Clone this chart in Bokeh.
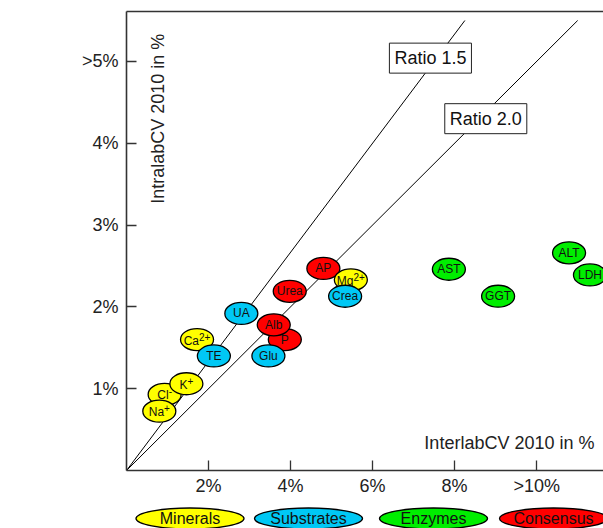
from bokeh.plotting import figure
from bokeh.models import Range1d, FixedTicker, LinearAxis, Label, ColumnDataSource
from bokeh.layouts import column
from bokeh.embed import file_html
from bokeh.resources import INLINE
from bokeh.core.properties import value
import math

FONT = "Liberation Sans"

# ---- data ----
analyte_base = ["Cl", "Na", "K", "Ca", "TE", "UA", "P", "Alb", "Glu", "Urea",
                "AP", "Mg", "Crea", "AST", "GGT", "ALT", "LDH"]
analyte_sup = ["-", "+", "+", "2+", "", "", "", "", "", "",
               "", "2+", "", "", "", "", ""]
groups = ["Minerals", "Minerals", "Minerals", "Minerals", "Substrates", "Substrates",
          "Consensus", "Consensus", "Substrates", "Consensus", "Consensus", "Minerals",
          "Substrates", "Enzymes", "Enzymes", "Enzymes", "Enzymes"]
interlab_cv = [0.93, 0.80, 1.46, 1.72, 2.13, 2.80, 3.86, 3.59, 3.46, 3.98,
               4.80, 5.47, 5.33, 7.86, 9.06, 10.79, 11.30]
intralab_cv = [0.93, 0.725, 1.06, 1.60, 1.40, 1.92, 1.60, 1.78, 1.40, 2.19,
               2.47, 2.33, 2.13, 2.46, 2.13, 2.66, 2.39]

legend_groups = ["Minerals", "Substrates", "Enzymes", "Consensus"]
group_colors = ["#FFFF00", "#00C8F5", "#00EE00", "#FF0000"]

ratios = [1.5, 2.0]
ratio_labels = ["Ratio 1.5", "Ratio 2.0"]
ratio_line_top = 5.5

x_ticks = [2, 4, 6, 8, 10]
x_tick_labels = ["2%", "4%", "6%", "8%", ">10%"]
y_ticks = [1, 2, 3, 4, 5]
y_tick_labels = ["1%", "2%", "3%", "4%", ">5%"]

color_of = dict(zip(legend_groups, group_colors))

# approximate Arial-metric character widths (per em) for centring base+superscript
CW = {"M": .833, "g": .556, "C": .722, "a": .556, "l": .222, "N": .722, "K": .667,
      "2": .556, "+": .584, "-": .333}
BASE_PX, SUP_PX = 12, 10


def text_w(s, px):
    return sum(CW.get(ch, .6) for ch in s) * px


# ---- main figure ----
p = figure(width=603, height=500, output_backend="svg", toolbar_location=None,
           x_range=Range1d(0, 11.63), y_range=Range1d(0, 5.61),
           min_border_left=126, min_border_right=0, min_border_top=11,
           min_border_bottom=30)
p.outline_line_color = None
p.grid.visible = False
p.background_fill_color = "white"

for ax, ticks, labels in ((p.xaxis[0], x_ticks, x_tick_labels),
                          (p.yaxis[0], y_ticks, y_tick_labels)):
    ax.ticker = FixedTicker(ticks=ticks)
    ax.major_label_overrides = {t: l for t, l in zip(ticks, labels)}
    ax.major_tick_in = 10
    ax.major_tick_out = 0
    ax.minor_tick_in = 0
    ax.minor_tick_out = 0
    ax.axis_line_width = 1.6
    ax.axis_line_color = "#333333"
    ax.major_tick_line_color = "#333333"
    ax.major_tick_line_width = 1.3
    ax.major_label_text_font = FONT
    ax.major_label_text_font_size = "18px"
    ax.major_label_text_color = "#222222"

p.xaxis[0].major_label_standoff = 5
p.yaxis[0].major_label_standoff = 8

top_axis = LinearAxis(ticker=FixedTicker(ticks=[]), major_label_text_font_size="0px",
                      axis_line_width=1.6, axis_line_color="#333333",
                      major_tick_in=0, major_tick_out=0, minor_tick_in=0, minor_tick_out=0)
p.add_layout(top_axis, "above")

# ratio lines
for r in ratios:
    p.line(x=[0, r * ratio_line_top], y=[0, ratio_line_top], line_color="black", line_width=1)

# ratio labels
ratio_pos = [(7.41, 5.04), (8.76, 4.30)]
for (lx, ly), txt in zip(ratio_pos, ratio_labels):
    p.add_layout(Label(x=lx, y=ly, text=txt, text_align="center", text_baseline="middle",
                       text_font=FONT, text_font_size="18px", text_color="#111111",
                       background_fill_color="white", border_line_color="#222222",
                       border_line_width=1, padding=5))

# data ellipses
for base, sup, g, xv, yv in zip(analyte_base, analyte_sup, groups, interlab_cv, intralab_cv):
    src = ColumnDataSource(dict(x=[xv], y=[yv], t=[base], s=[sup]))
    p.ellipse(x="x", y="y", width=33, height=22, width_units="screen", height_units="screen",
              fill_color=color_of[g], line_color="black", line_width=1.3, source=src)
    if sup:
        off = (text_w(base, BASE_PX) - text_w(sup, SUP_PX)) / 2
        p.text(x="x", y="y", text="t", text_align="right", text_baseline="middle",
               x_offset=off, y_offset=1,
               text_font=value(FONT), text_font_size=f"{BASE_PX}px", text_color="#111111",
               source=src)
        p.text(x="x", y="y", text="s", text_align="left", text_baseline="middle",
               x_offset=off, y_offset=-3,
               text_font=value(FONT), text_font_size=f"{SUP_PX}px", text_color="#111111",
               source=src)
    else:
        p.text(x="x", y="y", text="t", text_align="center", text_baseline="middle",
               text_font=value(FONT), text_font_size=f"{BASE_PX}px", text_color="#111111",
               source=src)

# axis titles (inside plot area)
p.add_layout(Label(x=0.756, y=4.30, text="IntralabCV 2010 in %", angle=math.pi / 2,
                   text_align="center", text_baseline="middle", text_font=FONT,
                   text_font_size="18px", text_color="#222222"))
p.add_layout(Label(x=11.41, y=0.342, text="InterlabCV 2010 in %",
                   text_align="right", text_baseline="middle", text_font=FONT,
                   text_font_size="18px", text_color="#222222"))

# ---- legend strip (frame is aligned with the main frame: x in page pixels 126..603) ----
leg = figure(width=603, height=28, output_backend="svg", toolbar_location=None,
             x_range=Range1d(126, 603), y_range=Range1d(0, 28),
             x_axis_type=None, y_axis_type=None,
             min_border=0, min_border_left=126, min_border_right=0,
             min_border_top=0, min_border_bottom=0)
leg.grid.visible = False
leg.outline_line_color = None
leg_x = [189.5, 308, 433, 553]
lsrc = ColumnDataSource(dict(x=leg_x, y=[10] * 4, t=legend_groups, c=group_colors))
leg.ellipse(x="x", y="y", width=108, height=21, fill_color="c", line_color="black",
            line_width=1.3, source=lsrc)
leg.text(x="x", y="y", text="t", text_align="center", text_baseline="middle",
         text_font=value(FONT), text_font_size="16px", text_color="#111111", source=lsrc)

layout = column(p, leg, spacing=0)
open("out.html", "w").write(file_html(layout, INLINE))
